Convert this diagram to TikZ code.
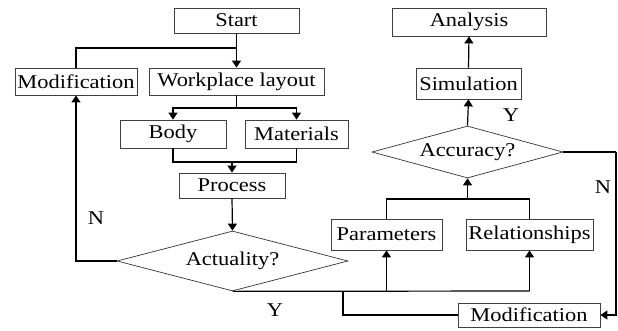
\documentclass[tikz,border=0pt]{standalone}
\usepackage{fontspec}
\setmainfont{Liberation Serif}[FakeStretch=1.15]
\usetikzlibrary{shapes.geometric,arrows.meta}
\begin{document}
\begin{tikzpicture}[x=1pt,y=-1pt,
  box/.style={draw=black!75,line width=0.8pt,rectangle,inner sep=0pt,font=\fontsize{19.5}{21}\selectfont},
  dia/.style={draw=black!80,line width=0.7pt,diamond,inner sep=0pt,font=\fontsize{19.5}{21}\selectfont},
  conn/.style={line width=1.2pt},
  arr/.style={line width=1.2pt,-{Triangle[width=9pt,length=7pt]}},
  lab/.style={font=\fontsize{19.5}{21}\selectfont,inner sep=0pt}]
\useasboundingbox (0,0) rectangle (618,330);
% nodes
\node[box,minimum width=125pt,minimum height=25pt] (start) at (236.5,20.5) {Start};
\node[box,minimum width=122pt,minimum height=27pt] (mod1) at (76,81.5) {Modification};
\node[box,minimum width=175pt,minimum height=27pt] (work) at (236.5,81.5) {Workplace layout};
\node[box,minimum width=106pt,minimum height=28pt] (body) at (173,134) {Body};
\node[box,minimum width=103pt,minimum height=28pt] (mat) at (296.5,134) {Materials};
\node[box,minimum width=106pt,minimum height=25pt] (proc) at (232,185.5) {Process};
\node[dia,shape aspect=3.85,minimum width=231pt,minimum height=60pt] (act) at (232.5,261) {Actuality?};
\node[box,minimum width=111pt,minimum height=31pt] (par) at (386.5,234.5) {Parameters};
\node[box,minimum width=127pt,minimum height=31pt] (rel) at (529.5,234.5) {Relationships};
\node[dia,shape aspect=3.67,minimum width=191pt,minimum height=52pt] (acc) at (467.5,152) {Accuracy?};
\node[box,minimum width=105pt,minimum height=31pt] (sim) at (468.5,83.5) {Simulation};
\node[box,minimum width=154pt,minimum height=28pt] (ana) at (469,22) {Analysis};
\node[box,minimum width=142pt,minimum height=24pt] (mod2) at (529,315) {Modification};
% junction coordinates
\coordinate (j1) at (236.5,48);
\coordinate (j2) at (236.5,108);
\coordinate (j3) at (232,162);
\coordinate (j4) at (529.5,291);
\coordinate (j5) at (467.5,199);
\coordinate (j6) at (616,152);
\coordinate (j7) at (343,291);
% connectors
\draw[arr] (start.south) -- (work.north);
\draw[conn] (mod1.north) |- (j1);
\draw[conn] (work.south) -- (j2);
\draw[arr] (j2) -| (body.north);
\draw[arr] (j2) -| (mat.north);
\draw[conn] (body.south) |- (j3);
\draw[conn] (mat.south) |- (j3);
\draw[arr] (j3) -- (proc.north);
\draw[arr] (proc.south) -- (act.north);
\draw[arr] (act.west) -| (mod1.south);
\draw[conn] (act.south) -- (j4);
\draw[arr] (j4) -- (rel.south);
\draw[arr] (par.south |- act.south) -- (par.south);
\draw[conn] (par.north) |- (j5);
\draw[conn] (rel.north) |- (j5);
\draw[arr] (j5) -- (acc.south);
\draw[arr] (acc.north) -- (sim.south);
\draw[arr] (sim.north) -- (ana.south);
\draw[conn] (acc.east) -- (j6);
\draw[arr] (j6) |- (mod2.east);
\draw[conn] (mod2.west) -| (j7);
% labels
\node[lab] (n1) at (96,218) {N};
\node[lab] (y1) at (275,310) {Y};
\node[lab] (y2) at (511,115) {Y};
\node[lab] (n2) at (603,187) {N};
\end{tikzpicture}
\end{document}
